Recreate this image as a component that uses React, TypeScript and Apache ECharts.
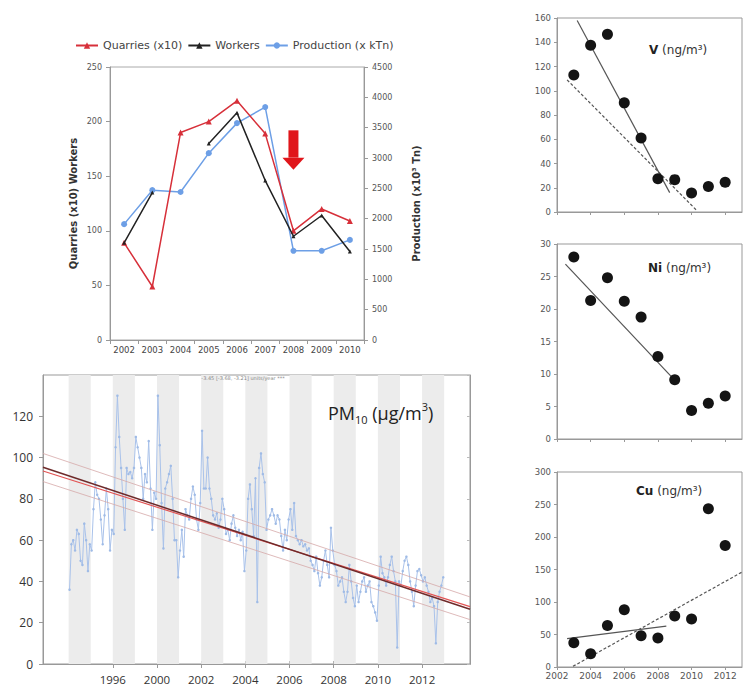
import React, { useEffect, useRef } from 'react';
import * as echarts from 'echarts';

// ---------- Top-left: quarries / workers / production ----------
const years = ['2002', '2003', '2004', '2005', '2006', '2007', '2008', '2009', '2010'];
const quarries = [89, 49, 190, 200, 219, 189, 100, 120, 109];
const workers = [89, 135, null, 180, 208, 146, 95, 114, 81];
const production = [1910, 2470, 2440, 3080, 3575, 3840, 1470, 1470, 1650];

// ---------- Bottom-left: PM10 monthly means ----------
const pmStartYear = 1996;
const pm10Monthly = [
  36, 58, 60, 55, 65, 63, 50, 48, 68, 60, 45, 58,
  55, 75, 88, 82, 80, 70, 58, 72, 85, 75, 55, 65,
  63, 105, 130, 110, 95, 80, 65, 95, 92, 93, 90, 95,
  110, 105, 100, 95, 80, 92, 88, 108, 85, 65, 83, 80,
  130, 106, 78, 56, 85, 88, 92, 96, 80, 60, 60, 42,
  55, 65, 52, 75, 72, 70, 80, 86, 82, 70, 65, 78,
  113, 85, 85, 100, 85, 80, 72, 70, 73, 66, 70, 80,
  75, 63, 65, 60, 68, 72, 66, 62, 65, 60, 64, 45,
  55, 80, 87, 75, 62, 90, 30, 95, 102, 92, 88, 65,
  70, 72, 75, 72, 68, 72, 70, 62, 55, 65, 60, 70,
  75, 65, 78, 62, 60, 58, 60, 57, 58, 55, 56, 50,
  48, 45, 52, 44, 38, 42, 50, 55, 48, 42, 66, 55,
  48, 45, 38, 40, 42, 35, 30, 35, 48, 40, 32, 28,
  38, 30, 35, 40, 42, 35, 38, 40, 30, 28, 25, 21,
  38, 52, 44, 42, 38, 42, 48, 52, 45, 40, 8, 40,
  38, 45, 50, 52, 48, 40, 35, 28, 38, 45, 46, 43,
  40, 42, 38, 35, 30, 32, 28, 10, 30, 35, 38, 42,
];
const pmTrendMain = [[1994.84, 95.3], [2014.17, 26.5]];
const pmTrendRed = [[1994.84, 93.5], [2014.17, 27.8]];
const pmTrendUpper = [[1994.84, 102], [2014.17, 32.5]];
const pmTrendLower = [[1994.84, 88.4], [2014.17, 21.5]];
const pmBandYears = [1996, 1998, 2000, 2002, 2004, 2006, 2008, 2010, 2012];
const pmTickYears = [1998, 2000, 2002, 2004, 2006, 2008, 2010, 2012];
const pmTickLabels = ['1996', '2000', '2002', '2004', '2006', '2008', '2010', '2012'];

// ---------- Right: metals ----------
const metalYears = [2003, 2004, 2005, 2006, 2007, 2008, 2009, 2010, 2011, 2012];
const vValues = [113, 137.5, 146.5, 90, 61, 27.5, 26.7, 15.7, 21, 24.5];
const niValues = [28.0, 21.3, 24.8, 21.2, 18.75, 12.7, 9.1, 4.4, 5.5, 6.6];
const cuValues = [37.4, 20.5, 64, 88, 48, 44.6, 78.5, 74, 243.6, 187];
const vSolid = [[2003.2, 158], [2008.7, 16]];
const vDashed = [[2002.6, 109], [2010.3, 1.4]];
const niSolid = [[2002.5, 26.9], [2008.8, 9.6]];
const cuSolid = [[2002.6, 43.6], [2008.5, 63]];
const cuDashed = [[2002.95, 1], [2013, 146]];
const metalTicks = [2002, 2004, 2006, 2008, 2010, 2012];

const F = 'DejaVu Sans';
const F2 = 'Open Sans';
const plain = (v: number) => String(v);

const pair = (a: number[], b: number[]) => a.map((x, i) => [x, b[i]]);

export default function App() {
  const ref = useRef<HTMLDivElement>(null);
  useEffect(() => {
    if (!ref.current) return;
    const chart = echarts.init(ref.current, undefined, { renderer: 'svg' });
    const pmData = pm10Monthly.map((v, i) => [pmStartYear + i / 12 + 1 / 24, v]);

    const metalX = (gi: number, labels: boolean) => ({
      type: 'value', gridIndex: gi, min: 2002, max: 2013,
      splitLine: { show: false },
      axisLine: { show: true, lineStyle: { color: '#999' } },
      axisTick: { show: true, length: 3, customValues: metalTicks, lineStyle: { color: '#999' } },
      axisLabel: { show: labels, customValues: metalTicks, fontSize: 9, color: '#555', fontFamily: F, margin: 4, formatter: plain },
    });
    const metalY = (gi: number, max: number, interval: number) => ({
      type: 'value', gridIndex: gi, min: 0, max, interval,
      splitLine: { show: false },
      axisLine: { show: true, lineStyle: { color: '#999' } },
      axisTick: { show: true, length: 3, lineStyle: { color: '#999' } },
      axisLabel: { fontSize: 8.5, color: '#555', fontFamily: F, margin: 6, formatter: plain },
    });
    const lineSeries = (name: string, xi: number, yi: number, data: number[][], color: string, type: any, width = 1.2) => ({
      name, type: 'line', xAxisIndex: xi, yAxisIndex: yi, data, symbol: 'none', silent: true,
      lineStyle: { color, width, type }, z: 4,
    });
    const scatter = (name: string, xi: number, yi: number, data: number[][]) => ({
      name, type: 'scatter', xAxisIndex: xi, yAxisIndex: yi, data, symbolSize: 11,
      itemStyle: { color: '#141414', opacity: 1 }, z: 5,
    });
    const elemLabel = (id: string, el: string, x: number, y: number) => ({
      id, type: 'text', x, y, z: 100,
      style: {
        text: `{b|${el}}{n| (ng/m³)}`,
        rich: {
          b: { fontFamily: F, fontSize: 12, fontWeight: 'bold', fill: '#222' },
          n: { fontFamily: F, fontSize: 12, fill: '#333' },
        },
      },
    });

    const option: any = {
      animation: false,
      backgroundColor: '#fff',
      legend: {
        data: ['Quarries (x10)', 'Workers', 'Production (x kTn)'],
        left: 70, top: 35, itemWidth: 22, itemHeight: 8, itemGap: 5,
        textStyle: { fontSize: 11, color: '#444', fontFamily: F },
      },
      grid: [
        { left: 110, top: 67, width: 254, height: 273, show: true, borderColor: '#aaa', borderWidth: 1 },
        { left: 43, top: 375, width: 427, height: 289, show: true, borderColor: '#999', borderWidth: 1 },
        { left: 557, top: 18, width: 185, height: 194, show: true, borderColor: '#999', borderWidth: 1 },
        { left: 557, top: 244, width: 185, height: 195, show: true, borderColor: '#999', borderWidth: 1 },
        { left: 557, top: 472, width: 185, height: 195, show: true, borderColor: '#999', borderWidth: 1 },
      ],
      xAxis: [
        {
          type: 'category', gridIndex: 0, data: years, boundaryGap: true,
          axisLine: { lineStyle: { color: '#999' } },
          axisTick: { show: true, length: 4, lineStyle: { color: '#999' } },
          axisLabel: { fontSize: 8.5, color: '#444', fontFamily: F, margin: 5, interval: 0 },
        },
        {
          type: 'value', gridIndex: 1, min: 1994.84, max: 2014.17, splitLine: { show: false },
          axisLine: { show: true, lineStyle: { color: '#999' } },
          axisTick: { show: true, length: 4, customValues: pmTickYears, lineStyle: { color: '#999' } },
          axisLabel: {
            customValues: pmTickYears, fontSize: 11.5, color: '#333', fontFamily: F2, margin: 9,
            formatter: (v: number) => { const i = pmTickYears.indexOf(Math.round(v)); return i >= 0 ? pmTickLabels[i] : ''; },
          },
        },
        {
          type: 'value', gridIndex: 1, position: 'top', min: 1994.84, max: 2014.17, splitLine: { show: false },
          axisLine: { show: true, lineStyle: { color: '#999' } },
          axisTick: { show: true, length: 3, customValues: pmTickYears, lineStyle: { color: '#999' } },
          axisLabel: { show: false },
        },
        metalX(2, false),
        metalX(3, false),
        metalX(4, true),
      ],
      yAxis: [
        {
          type: 'value', gridIndex: 0, position: 'left', min: 0, max: 250, interval: 50,
          splitLine: { show: false },
          axisLine: { show: true, lineStyle: { color: '#999' } },
          axisTick: { show: true, length: 4, lineStyle: { color: '#999' } },
          axisLabel: { fontSize: 8, color: '#555', fontFamily: F, margin: 8, formatter: plain },
          name: 'Quarries (x10) Workers', nameLocation: 'middle', nameGap: 32, nameRotate: 90,
          nameTextStyle: { fontWeight: 'bold', fontSize: 10, color: '#333', fontFamily: F },
        },
        {
          type: 'value', gridIndex: 0, position: 'right', min: 0, max: 4500, interval: 500,
          splitLine: { show: false },
          axisLine: { show: true, lineStyle: { color: '#999' } },
          axisTick: { show: true, length: 4, lineStyle: { color: '#999' } },
          axisLabel: { fontSize: 8, color: '#555', fontFamily: F, margin: 8, formatter: plain },
          name: 'Production (x10³ Tn)', nameLocation: 'middle', nameGap: 47, nameRotate: 90,
          nameTextStyle: { fontWeight: 'bold', fontSize: 10, color: '#333', fontFamily: F },
        },
        {
          type: 'value', gridIndex: 1, min: 0, max: 140, interval: 20,
          splitLine: { show: false },
          axisLine: { show: true, lineStyle: { color: '#999' } },
          axisTick: { show: true, length: 4, lineStyle: { color: '#999' } },
          axisLabel: { fontSize: 12, color: '#333', fontFamily: F2, margin: 10, showMaxLabel: false, formatter: plain },
        },
        {
          type: 'value', gridIndex: 1, position: 'right', min: 0, max: 140, interval: 20,
          splitLine: { show: false },
          axisLine: { show: true, lineStyle: { color: '#999' } },
          axisTick: { show: true, length: 3, inside: true, lineStyle: { color: '#bbb' } },
          axisLabel: { show: false },
        },
        metalY(2, 160, 20),
        metalY(3, 30, 5),
        metalY(4, 300, 50),
      ],
      series: [
        {
          name: 'Quarries (x10)', type: 'line', xAxisIndex: 0, yAxisIndex: 0, data: quarries,
          symbol: 'triangle', symbolSize: 6, itemStyle: { color: '#d7303a' },
          lineStyle: { color: '#d7303a', width: 1.5 }, z: 3,
        },
        {
          name: 'Workers', type: 'line', xAxisIndex: 0, yAxisIndex: 0, data: workers,
          symbol: 'triangle', symbolSize: 4, itemStyle: { color: '#222' },
          lineStyle: { color: '#222', width: 1.5 }, z: 4,
        },
        {
          name: 'Production (x kTn)', type: 'line', xAxisIndex: 0, yAxisIndex: 1, data: production,
          symbol: 'circle', symbolSize: 6, itemStyle: { color: '#6d9fe6' },
          lineStyle: { color: '#6d9fe6', width: 1.5 }, z: 2,
        },
        {
          name: 'bands', type: 'line', xAxisIndex: 1, yAxisIndex: 2, data: pmTrendMain, symbol: 'none',
          lineStyle: { opacity: 0, width: 0 }, silent: true, z: 1,
          markArea: {
            silent: true, itemStyle: { color: '#ececec' },
            data: pmBandYears.map((y) => [{ xAxis: y }, { xAxis: y + 1 }]),
          },
        },
        {
          name: 'PM10', type: 'line', xAxisIndex: 1, yAxisIndex: 2, data: pmData,
          symbol: 'circle', symbolSize: 2.5, itemStyle: { color: '#9fbbe6' },
          lineStyle: { color: '#a9c2ea', width: 1 }, z: 3,
        },
        lineSeries('pmUpper', 1, 2, pmTrendUpper, '#d6a8a8', 'solid', 0.8),
        lineSeries('pmLower', 1, 2, pmTrendLower, '#d6a8a8', 'solid', 0.8),
        lineSeries('pmRed', 1, 2, pmTrendRed, '#e25555', 'solid', 1.2),
        lineSeries('pmMain', 1, 2, pmTrendMain, '#6e2a2a', 'solid', 1.5),
        scatter('V', 3, 4, pair(metalYears, vValues)),
        lineSeries('vSolid', 3, 4, vSolid, '#555', 'solid'),
        lineSeries('vDashed', 3, 4, vDashed, '#555', [3, 2]),
        scatter('Ni', 4, 5, pair(metalYears, niValues)),
        lineSeries('niSolid', 4, 5, niSolid, '#555', 'solid'),
        scatter('Cu', 5, 6, pair(metalYears, cuValues)),
        lineSeries('cuSolid', 5, 6, cuSolid, '#555', 'solid'),
        lineSeries('cuDashed', 5, 6, cuDashed, '#555', [3, 2]),
      ],
      graphic: [
        {
          id: 'pmTitle', type: 'text', x: 328, y: 401, z: 100,
          style: {
            text: '{a|PM}{s|10}{a| (µg/m}{p|3}{a|)}',
            rich: {
              a: { fontFamily: F2, fontSize: 18, fill: '#222', lineHeight: 24, verticalAlign: 'middle' },
              s: { fontFamily: F2, fontSize: 11, fill: '#222', lineHeight: 10, verticalAlign: 'bottom' },
              p: { fontFamily: F2, fontSize: 11, fill: '#222', lineHeight: 15, verticalAlign: 'top' },
            },
          },
        },
        {
          id: 'pmNote', type: 'text', x: 243, y: 378, z: 100,
          style: { text: '-3.45 [-3.68, -3.21] units/year ***', fontSize: 5, fill: '#888', fontFamily: F, align: 'center', verticalAlign: 'middle' },
        },
        elemLabel('vLab', 'V', 649, 44),
        elemLabel('niLab', 'Ni', 648, 262),
        elemLabel('cuLab', 'Cu', 636, 485),
      ],
    };
    chart.setOption(option);

    const top = chart.convertToPixel({ xAxisIndex: 0, yAxisIndex: 0 }, ['2008', 192]) as number[];
    const mid = chart.convertToPixel({ xAxisIndex: 0, yAxisIndex: 0 }, ['2008', 167]) as number[];
    const tip = chart.convertToPixel({ xAxisIndex: 0, yAxisIndex: 0 }, ['2008', 156]) as number[];
    chart.setOption({
      graphic: [
        { id: 'arrowShaft', type: 'rect', z: 100, shape: { x: top[0] - 5, y: top[1], width: 10, height: mid[1] - top[1] }, style: { fill: '#e0161b' } },
        {
          id: 'arrowHead', type: 'polygon', z: 100,
          shape: { points: [[mid[0] - 11, mid[1]], [mid[0] + 11, mid[1]], [tip[0], tip[1]]] },
          style: { fill: '#e0161b' },
        },
      ],
    });
    return () => chart.dispose();
  }, []);
  return <div ref={ref} style={{ position: 'absolute', left: 0, top: 0, width: 744, height: 688 }} />;
}
